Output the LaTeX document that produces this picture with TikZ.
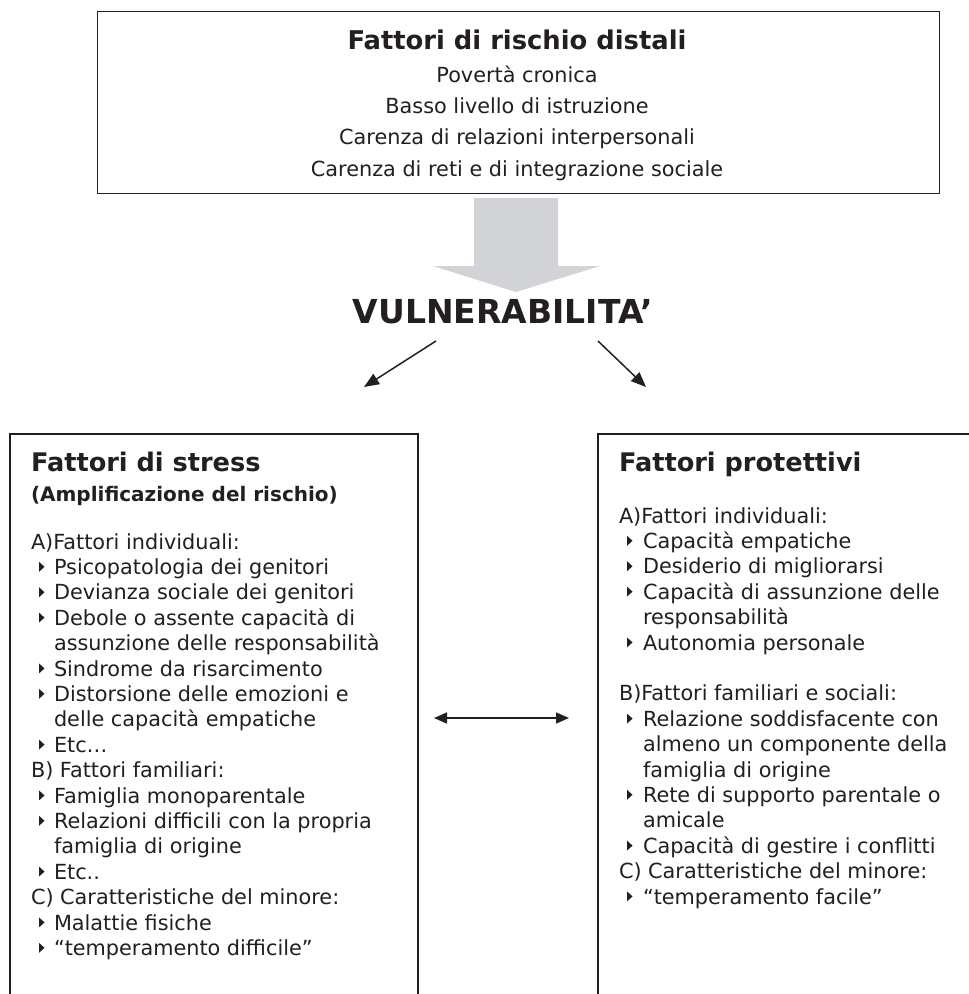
\documentclass[tikz,border=0pt]{standalone}
\usepackage{fontspec}
\setmainfont{DejaVu Sans}
\usetikzlibrary{arrows.meta}
\definecolor{ink}{HTML}{231F20}
\definecolor{arrowgrey}{HTML}{D1D3D6}
\newcommand\bul[2]{\fill[ink] (#1,#2-12.6) -- (#1,#2-2.6) -- (#1+5.5,#2-7.6) -- cycle;}
\begin{document}
\begin{tikzpicture}[x=1pt,y=-1pt,
  txt/.style={inner sep=0pt,outer sep=0pt,anchor=base west,text=ink,font=\fontsize{20.8}{25}\selectfont},
  ttl/.style={inner sep=0pt,outer sep=0pt,anchor=base west,text=ink,font=\bfseries\fontsize{25.6}{30}\selectfont},
  subttl/.style={inner sep=0pt,outer sep=0pt,anchor=base west,text=ink,font=\bfseries\fontsize{20}{24}\selectfont},
  toptitle/.style={inner sep=0pt,outer sep=0pt,anchor=base,text=ink,font=\bfseries\fontsize{25.8}{30}\selectfont},
  toptxt/.style={inner sep=0pt,outer sep=0pt,anchor=base,text=ink,font=\fontsize{20.8}{25}\selectfont},
  boxline/.style={draw=ink,line width=1.3pt},
  conn/.style={draw=ink,line width=1.5pt,-{Triangle[length=15pt,width=12pt]}},
  dconn/.style={draw=ink,line width=1.5pt,{Triangle[length=13pt,width=11pt]}-{Triangle[length=13pt,width=11pt]}},
]
\useasboundingbox (0,0) rectangle (969,994);
\fill[white] (0,0) rectangle (969,994);

% top box
\node[boxline,minimum width=842pt,minimum height=182pt,inner sep=0pt,anchor=north west] (topbox) at (97,11) {};
\node[toptitle] (t0) at (517,49.4) {Fattori di rischio distali};
\node[toptxt] (t1) at (517,82) {Povertà cronica};
\node[toptxt] (t2) at (517,113) {Basso livello di istruzione};
\node[toptxt] (t3) at (517,144.5) {Carenza di relazioni interpersonali};
\node[toptxt] (t4) at (517,176) {Carenza di reti e di integrazione sociale};

% big grey arrow
\fill[arrowgrey] (474,198) -- (558,198) -- (558,266) -- (600,266) -- (516,292) -- (433,266) -- (474,266) -- cycle;

\node[inner sep=0pt,anchor=base,text=ink,font=\bfseries\fontsize{33}{40}\selectfont] (vul) at (503,323.5) {VULNERABILITA’};

\coordinate (la1) at (436,341);
\coordinate (la2) at (364,387);
\coordinate (ra1) at (598,341);
\coordinate (ra2) at (646,387);
\draw[conn] (la1) -- (la2);
\draw[conn] (ra1) -- (ra2);

% left box
\draw[boxline] (10,1000) -- (10,434) -- (418,434) -- (418,1000);
\node[ttl] (ltitle) at (31,471) {Fattori di stress};
\node[subttl] (lsub) at (31,501) {(Amplificazione del rischio)};
\node[txt] (l0) at (31,549) {A)Fattori individuali:};
\bul{39}{574.4}\node[txt] (l1) at (54,574.4) {Psicopatologia dei genitori};
\bul{39}{599.8}\node[txt] (l2) at (54,599.8) {Devianza sociale dei genitori};
\bul{39}{625.2}\node[txt] (l3) at (54,625.2) {Debole o assente capacità di};
\node[txt] (l4) at (54,650.6) {assunzione delle responsabilità};
\bul{39}{676.0}\node[txt] (l5) at (54,676.0) {Sindrome da risarcimento};
\bul{39}{701.4}\node[txt] (l6) at (54,701.4) {Distorsione delle emozioni e};
\node[txt] (l7) at (54,726.8) {delle capacità empatiche};
\bul{39}{752.2}\node[txt] (l8) at (54,752.2) {Etc…};
\node[txt] (l9) at (31,777.6) {B) Fattori familiari:};
\bul{39}{803.0}\node[txt] (l10) at (54,803.0) {Famiglia monoparentale};
\bul{39}{828.4}\node[txt] (l11) at (54,828.4) {Relazioni difficili con la propria};
\node[txt] (l12) at (54,853.8) {famiglia di origine};
\bul{39}{879.2}\node[txt] (l13) at (54,879.2) {Etc..};
\node[txt] (l14) at (31,904.6) {C) Caratteristiche del minore:};
\bul{39}{930.0}\node[txt] (l15) at (54,930.0) {Malattie fisiche};
\bul{39}{955.4}\node[txt] (l16) at (54,955.4) {“temperamento difficile”};

% right box
\draw[boxline] (598,1000) -- (598,434) -- (975,434);
\node[ttl] (rtitle) at (619,471) {Fattori protettivi};
\node[txt] (r0) at (619,523) {A)Fattori individuali:};
\bul{627}{548.4}\node[txt] (r1) at (643,548.4) {Capacità empatiche};
\bul{627}{573.8}\node[txt] (r2) at (643,573.8) {Desiderio di migliorarsi};
\bul{627}{599.2}\node[txt] (r3) at (643,599.2) {Capacità di assunzione delle};
\node[txt] (r4) at (643,624.6) {responsabilità};
\bul{627}{650.0}\node[txt] (r5) at (643,650.0) {Autonomia personale};
\node[txt] (r7) at (619,700.8) {B)Fattori familiari e sociali:};
\bul{627}{726.2}\node[txt] (r8) at (643,726.2) {Relazione soddisfacente con};
\node[txt] (r9) at (643,751.6) {almeno un componente della};
\node[txt] (r10) at (643,777.0) {famiglia di origine};
\bul{627}{802.4}\node[txt] (r11) at (643,802.4) {Rete di supporto parentale o};
\node[txt] (r12) at (643,827.8) {amicale};
\bul{627}{853.2}\node[txt] (r13) at (643,853.2) {Capacità di gestire i conflitti};
\node[txt] (r14) at (619,878.6) {C) Caratteristiche del minore:};
\bul{627}{904.0}\node[txt] (r15) at (643,904.0) {“temperamento facile”};

% double arrow
\coordinate (dl) at (434,718);
\coordinate (dr) at (569,718);
\draw[dconn] (dl) -- (dr);
\end{tikzpicture}
\end{document}
